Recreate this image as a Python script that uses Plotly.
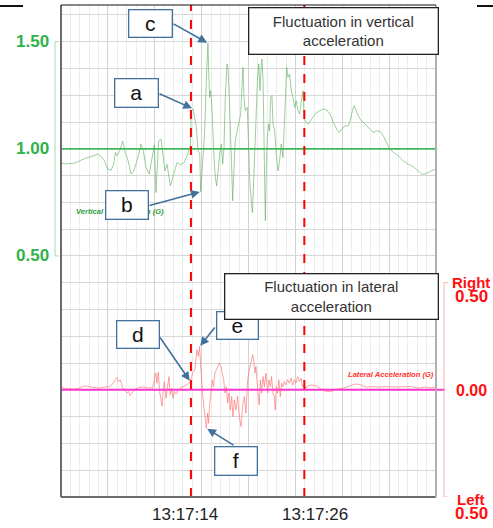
import plotly.graph_objects as go

# ---------------- data (time in s, acceleration in G) ----------------
VERT_T = [2.55, 2.86, 3.17, 3.63, 3.94, 4.40, 4.86, 5.32, 5.63, 5.94,
          6.24, 6.55, 6.86, 7.17, 7.42, 7.57, 7.72, 7.94, 8.25, 8.46,
          8.71, 9.02, 9.27, 9.57, 9.94, 10.15, 10.40, 10.70, 11.02, 11.17,
          11.32, 11.57, 11.79, 11.94, 12.15, 12.34, 12.65, 12.96, 13.27, 13.57,
          13.94, 14.25, 14.49, 14.59, 14.74, 15.05, 15.20, 15.36, 15.45, 15.66,
          15.82, 15.97, 16.12, 16.19, 16.28, 16.37, 16.49, 16.68, 16.80, 16.93,
          17.05, 17.20, 17.35, 17.48, 17.60, 17.72, 17.88, 17.97, 18.09, 18.22,
          18.34, 18.40, 18.52, 18.64, 18.83, 18.98, 19.14, 19.26, 19.36, 19.45,
          19.57, 19.75, 19.87, 19.99, 20.14, 20.23, 20.38, 20.50, 20.69, 20.81,
          20.93, 21.05, 21.12, 21.21, 21.30, 21.37, 21.42, 21.51, 21.60, 21.73,
          21.82, 21.91, 22.03, 22.13, 22.28, 22.43, 22.59, 22.74, 22.89, 23.05,
          23.14, 23.26, 23.39, 23.51, 23.67, 23.81, 23.97, 24.13, 24.28, 24.43,
          24.59, 24.74, 24.90, 24.99, 25.11, 25.17, 25.39, 25.70, 26.00, 26.47,
          26.77, 27.09, 27.39, 27.70, 28.01, 28.25, 28.47, 28.78, 29.08, 29.30,
          29.49, 29.64, 29.86, 30.16, 30.47, 30.78, 31.09, 31.39, 31.70, 32.01,
          32.31, 32.56, 32.87, 33.24, 33.70, 34.16, 34.62, 35.09, 35.55, 35.86,
          36.17, 36.47, 36.79, 37.09]
VERT_G = [0.936, 0.929, 0.931, 0.931, 0.936, 0.947, 0.957, 0.963, 0.969, 0.975,
          0.966, 0.944, 0.905, 0.900, 0.928, 0.983, 0.967, 0.987, 1.037, 0.983,
          0.952, 0.882, 0.897, 0.944, 1.022, 0.991, 0.913, 0.882, 0.975, 1.019,
          0.796, 1.037, 1.045, 0.991, 0.897, 0.928, 0.827, 0.882, 0.936, 0.925,
          0.936, 0.975, 1.014, 1.178, 1.187, 1.100, 0.991, 0.977, 0.800, 0.959,
          1.084, 1.318, 1.493, 1.364, 1.240, 1.271, 1.193, 0.959, 0.866, 0.827,
          0.897, 0.975, 1.022, 0.928, 1.006, 1.240, 1.396, 1.380, 1.240, 1.084,
          0.866, 0.757, 0.928, 1.037, 1.084, 1.115, 1.162, 1.286, 1.380, 1.240,
          1.178, 1.193, 1.014, 0.843, 0.742, 0.702, 0.897, 1.084, 1.318, 1.396,
          1.271, 1.396, 1.419, 1.318, 1.084, 0.850, 0.664, 0.897, 1.053, 1.115,
          1.084, 1.240, 1.248, 1.115, 1.084, 0.975, 0.897, 0.944, 1.022, 0.959,
          1.084, 1.240, 1.380, 1.333, 1.349, 1.271, 1.240, 1.193, 1.224, 1.178,
          1.162, 1.224, 1.271, 1.146, 1.131, 1.123, 1.115, 1.139, 1.162, 1.178,
          1.186, 1.181, 1.162, 1.123, 1.092, 1.076, 1.092, 1.107, 1.107, 1.139,
          1.186, 1.201, 1.170, 1.139, 1.123, 1.107, 1.092, 1.076, 1.084, 1.081,
          1.061, 1.037, 1.003, 0.983, 0.967, 0.944, 0.928, 0.916, 0.897, 0.882,
          0.882, 0.889, 0.900, 0.905]

LAT_T = [2.55, 3.17, 3.78, 4.24, 4.55, 4.86, 5.48, 6.09, 6.55, 7.01,
         7.32, 7.54, 7.72, 7.84, 8.03, 8.25, 8.46, 8.65, 8.80, 8.95,
         9.10, 9.32, 9.69, 10.19, 10.61, 11.02, 11.17, 11.30, 11.41, 11.53,
         11.66, 11.75, 11.88, 11.97, 12.09, 12.25, 12.40, 12.52, 12.64, 12.77,
         12.89, 13.01, 13.20, 13.38, 13.63, 13.88, 14.18, 14.49, 14.70, 14.91,
         15.10, 15.23, 15.35, 15.47, 15.56, 15.65, 15.78, 15.87, 15.97, 16.09,
         16.18, 16.27, 16.39, 16.52, 16.64, 16.76, 16.89, 17.01, 17.17, 17.32,
         17.45, 17.57, 17.69, 17.82, 17.94, 18.06, 18.19, 18.31, 18.43, 18.56,
         18.71, 18.86, 19.02, 19.17, 19.32, 19.48, 19.63, 19.79, 19.94, 20.09,
         20.25, 20.34, 20.46, 20.55, 20.64, 20.77, 20.86, 20.96, 21.08, 21.20,
         21.33, 21.47, 21.63, 21.75, 21.88, 22.00, 22.12, 22.25, 22.34, 22.43,
         22.55, 22.67, 22.80, 22.92, 23.05, 23.18, 23.32, 23.48, 23.64, 23.79,
         23.94, 24.10, 24.25, 24.40, 24.56, 24.71, 24.84, 24.96, 25.17, 25.39,
         25.67, 26.13, 26.59, 27.05, 27.51, 27.97, 28.58, 29.20, 29.81, 30.28,
         30.74, 31.20, 31.85, 32.62, 33.39, 34.16, 34.93, 35.54, 36.16, 36.78,
         37.09]
LAT_G = [0.011, 0.005, 0.003, 0.008, 0.015, 0.019, 0.011, 0.008, 0.013, 0.015,
         0.027, 0.042, 0.057, 0.039, 0.047, 0.008, 0.0, -0.015, -0.008, -0.027,
         -0.015, 0.0, 0.011, 0.014, 0.008, 0.011, 0.047, 0.078, 0.031, 0.083,
         -0.008, -0.031, -0.075, -0.008, 0.039, -0.039, 0.023, 0.062, -0.023, 0.008,
         -0.039, -0.008, -0.02, 0.0, 0.011, 0.015, 0.023, 0.039, 0.078, 0.093,
         0.187, 0.156, 0.202, 0.093, 0.015, -0.031, -0.093, -0.156, -0.179, -0.109,
         -0.156, -0.078, 0.0, 0.047, 0.015, 0.078, 0.093, 0.109, 0.125, 0.109,
         0.078, 0.047, -0.015, 0.015, -0.062, -0.015, -0.093, -0.031, -0.125, -0.047,
         -0.093, -0.031, -0.125, -0.171, -0.078, -0.031, -0.109, 0.047, 0.093, 0.125,
         0.164, 0.14, 0.078, 0.109, 0.031, -0.031, -0.07, 0.047, -0.015, 0.062,
         0.015, 0.078, -0.015, 0.047, 0.015, 0.062, -0.015, -0.031, -0.093, 0.015,
         -0.015, 0.047, -0.031, 0.031, 0.015, 0.039, 0.023, 0.047, 0.031, 0.055,
         0.023, 0.047, 0.031, 0.062, 0.039, 0.055, 0.015, 0.023, 0.008, 0.019,
         0.023, 0.019, 0.003, -0.008, -0.008, 0.003, 0.008, 0.019, 0.028, 0.023,
         0.013, 0.015, 0.013, 0.015, 0.013, 0.015, 0.015, 0.008, 0.013, 0.009,
         0.013]

TIME_TICK_VALS = [14.0, 26.0]
TIME_TICK_TEXT = ["13:17:14", "13:17:26"]
VERT_TICK_VALS = [1.5, 1.0, 0.5]
VERT_TICK_TEXT = ["1.50", "1.00", "0.50"]
EVENT_TIMES = [14.55, 25.02]
VERT_REF = 1.0
LAT_REF = 0.0

# letter callouts: (letter, tip time, tip value, axis)
CALLOUTS = [("a", 14.74, 1.187, "y"), ("b", 15.45, 0.800, "y"), ("c", 16.12, 1.493, "y"),
            ("d", 14.49, 0.039, "y2"), ("e", 15.35, 0.202, "y2"), ("f", 15.97, -0.179, "y2")]

# ---------------- layout geometry (pixels) ----------------
W, H = 493, 528
PL, PR, PT, PB = 61, 436, 5, 497
X_RANGE = [2.55, 37.18]
Y_RANGE = [-0.625, 1.671]
Y2_RANGE = [-0.5, 1.796]


def px(x, y):
    return (x - PL) / (PR - PL), (PB - y) / (PB - PT)


FONT = "Liberation Sans, Arial, sans-serif"
GREEN = "#2fb24a"
RED = "#ff1010"
BLUE = "#41719c"

fig = go.Figure()
fig.add_trace(go.Scatter(x=VERT_T, y=VERT_G, mode="lines", yaxis="y",
                         line=dict(color="rgba(90,175,90,0.6)", width=1), hoverinfo="skip"))
fig.add_trace(go.Scatter(x=LAT_T, y=LAT_G, mode="lines", yaxis="y2",
                         line=dict(color="rgba(255,100,100,0.6)", width=1), hoverinfo="skip"))

shapes = []
# reference lines
shapes.append(dict(type="line", xref="paper", yref="y", x0=0, x1=1.003, y0=VERT_REF, y1=VERT_REF,
                   line=dict(color="#3cb85a", width=1.8)))
shapes.append(dict(type="line", xref="paper", yref="y2", x0=0, x1=px(445, 0)[0], y0=LAT_REF, y1=LAT_REF,
                   line=dict(color="#ff33cc", width=2)))
for t in EVENT_TIMES:
    shapes.append(dict(type="line", xref="x", yref="paper", x0=t, x1=t, y0=0, y1=1,
                       line=dict(color="#ff0000", width=2, dash="dash")))
# plot borders
shapes.append(dict(type="line", xref="paper", yref="paper", x0=0, x1=0, y0=0, y1=1, line=dict(color="#6b6b6b", width=2)))
shapes.append(dict(type="line", xref="paper", yref="paper", x0=0, x1=1, y0=0, y1=0, line=dict(color="#6b6b6b", width=2)))
shapes.append(dict(type="line", xref="paper", yref="paper", x0=1, x1=1, y0=0, y1=1, line=dict(color="#b0b0b0", width=2)))
shapes.append(dict(type="line", xref="paper", yref="paper", x0=0, x1=1, y0=1, y1=1, line=dict(color="#111", width=1)))
for a, b in ((0, 23), (477, 493)):
    shapes.append(dict(type="line", xref="paper", yref="paper", x0=px(a, 0)[0], x1=px(b, 0)[0],
                       y0=px(0, 6)[1], y1=px(0, 6)[1], line=dict(color="#111", width=2)))
# left (green) bracket axis
lx = px(55, 0)[0]
lx2 = px(59, 0)[0]
shapes.append(dict(type="line", xref="paper", yref="y", x0=lx, x1=lx, y0=0.5, y1=1.5, line=dict(color="#a6dcae", width=1)))
for v in (0.5, 1.5):
    shapes.append(dict(type="line", xref="paper", yref="y", x0=lx, x1=lx2, y0=v, y1=v, line=dict(color="#a6dcae", width=1)))
# right (red) bracket axis
rx = px(444, 0)[0]
rx2 = px(448, 0)[0]
shapes.append(dict(type="line", xref="paper", yref="y2", x0=rx, x1=rx, y0=-0.5, y1=0.5, line=dict(color="#ffb0b0", width=1)))
for v in (-0.5, 0.5):
    shapes.append(dict(type="line", xref="paper", yref="y2", x0=rx, x1=rx2, y0=v, y1=v, line=dict(color="#ffb0b0", width=1)))

ann = []
# axis labels
for v, s in zip(VERT_TICK_VALS, VERT_TICK_TEXT):
    ann.append(dict(xref="paper", yref="y", x=px(51, 0)[0], y=v, text="<b>%s</b>" % s, showarrow=False,
                    xanchor="right", yanchor="middle", font=dict(family=FONT, size=17, color=GREEN)))
for t, s in zip(TIME_TICK_VALS, TIME_TICK_TEXT):
    ann.append(dict(xref="x", yref="paper", x=t, y=px(0, 514)[1], text=s, showarrow=False,
                    xanchor="center", yanchor="middle", font=dict(family=FONT, size=17, color="#222")))
for txt, yy, sz in [("Right", 282, 15), ("0.50", 296, 17), ("0.00", 390, 16), ("Left", 499, 15), ("0.50", 513, 17)]:
    ann.append(dict(xref="paper", yref="paper", x=px(471, 0)[0], y=px(0, yy)[1], text="<b>%s</b>" % txt,
                    showarrow=False, xanchor="center", yanchor="middle", font=dict(family=FONT, size=sz, color=RED)))
# series labels
ann.append(dict(xref="paper", yref="paper", x=px(74, 0)[0], y=px(0, 211)[1], text="<b><i>Vertical Acceleration (G)</i></b>",
                showarrow=False, xanchor="left", yanchor="middle", font=dict(family=FONT, size=7.6, color="#2e9e3e")))
ann.append(dict(xref="paper", yref="paper", x=px(346, 0)[0], y=px(0, 374)[1], text="<b><i>Lateral Acceleration (G)</i></b>",
                showarrow=False, xanchor="left", yanchor="middle", font=dict(family=FONT, size=7.6, color="#ff3030")))

# arrows (empty text, tail in pixels)
TAILS = {"a": (158, 93), "b": (148, 206), "c": (172, 23), "d": (159, 336), "e": (216, 326), "f": (235, 446)}
BOXES = {"a": (114, 78, 158, 107), "b": (105, 190, 148, 219), "c": (128, 10, 172, 38),
         "d": (116, 321, 159, 349), "e": (216, 311, 258, 339), "f": (214, 446, 257, 475)}


def data_px(t, v, axis):
    xx = PL + (t - X_RANGE[0]) / (X_RANGE[1] - X_RANGE[0]) * (PR - PL)
    rng = Y_RANGE if axis == "y" else Y2_RANGE
    yy = PB - (v - rng[0]) / (rng[1] - rng[0]) * (PB - PT)
    return xx, yy


for letter, t, v, axis in CALLOUTS:
    tx, ty = data_px(t, v, axis)
    sx, sy = TAILS[letter]
    ann.append(dict(xref="x", yref=axis, x=t, y=v, text="", showarrow=True, ax=sx - tx, ay=sy - ty,
                    arrowcolor=BLUE, arrowwidth=1.6, arrowhead=2, arrowsize=1.1, standoff=1))
for letter, t, v, axis in CALLOUTS:
    x0, y0, x1, y1 = BOXES[letter]
    cx, cy = px((x0 + x1) / 2, (y0 + y1) / 2)
    ann.append(dict(xref="paper", yref="paper", x=cx, y=cy, text=letter, showarrow=False,
                    width=x1 - x0 - 2, height=y1 - y0 - 2, borderpad=0, borderwidth=1.3, bordercolor=BLUE,
                    bgcolor="white", xanchor="center", yanchor="middle",
                    font=dict(family=FONT, size=21, color="#111")))

for txt, (x0, y0, x1, y1) in [("Fluctuation in vertical<br>acceleration", (248, 7, 438, 54)),
                              ("Fluctuation in lateral<br>acceleration", (224, 273, 438, 319))]:
    cx, cy = px((x0 + x1) / 2, (y0 + y1) / 2)
    ann.append(dict(xref="paper", yref="paper", x=cx, y=cy, text=txt, showarrow=False,
                    width=x1 - x0 - 2, height=y1 - y0 - 2, borderpad=0, borderwidth=1.3, bordercolor="#222",
                    bgcolor="white", xanchor="center", yanchor="middle", align="center",
                    font=dict(family=FONT, size=15, color="#333")))

fig.update_layout(
    width=W, height=H, margin=dict(l=PL, r=W - PR, t=PT, b=H - PB),
    paper_bgcolor="white", plot_bgcolor="white", showlegend=False,
    shapes=shapes, annotations=ann,
    xaxis=dict(range=X_RANGE, tick0=X_RANGE[0], dtick=4.33, showgrid=True, gridcolor="#d2d2d2", gridwidth=1,
               minor=dict(dtick=0.866, tick0=X_RANGE[0], showgrid=True, gridcolor="#ececec", gridwidth=1),
               showticklabels=False, ticks="", zeroline=False, showline=False, fixedrange=True),
    yaxis=dict(range=Y_RANGE, tick0=0, dtick=0.125, showgrid=True, gridcolor="#d6d6d6", gridwidth=1,
               showticklabels=False, ticks="", zeroline=False, showline=False, fixedrange=True),
    yaxis2=dict(range=Y2_RANGE, overlaying="y", side="right", showgrid=False, showticklabels=False,
                ticks="", zeroline=False, showline=False, fixedrange=True),
)

fig.write_html("out.html", config={"displayModeBar": False},
               post_script="document.body.style.margin='0';document.body.style.padding='0';"
                           "document.documentElement.style.overflow='hidden';")
